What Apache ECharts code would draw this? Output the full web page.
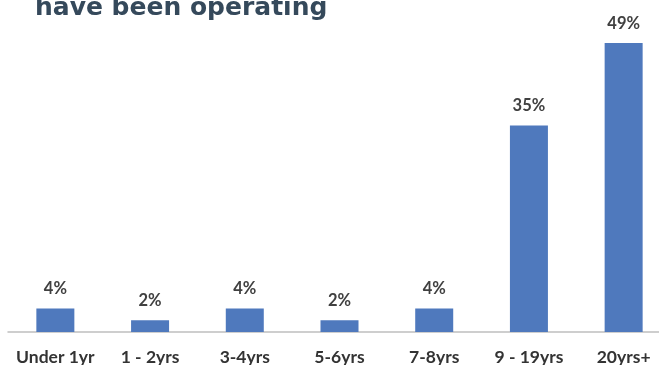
<!DOCTYPE html>
<html>
<head>
<meta charset="utf-8">
<script src="https://cdn.jsdelivr.net/npm/echarts@6/dist/echarts.min.js"></script>
<style>
  html, body { margin: 0; padding: 0; background: #ffffff; }
  #chart { width: 659px; height: 365px; }
</style>
</head>
<body>
<div id="chart"></div>
<script>
// Share of businesses by how long they have been operating
const categories = ['Under 1yr', '1 - 2yrs', '3-4yrs', '5-6yrs', '7-8yrs', '9 - 19yrs', '20yrs+'];
const shares = [4, 2, 4, 2, 4, 35, 49];
const titleText = 'have been operating';

const chart = echarts.init(document.getElementById('chart'));
chart.setOption({
  animation: false,
  title: {
    text: titleText,
    left: 30,
    top: -9,
    textStyle: {
      fontFamily: 'DejaVu Sans',
      fontWeight: 'bold',
      fontSize: 25,
      color: '#35495b'
    }
  },
  grid: { left: 8, width: 663, top: 37, bottom: 33, containLabel: false, outerBoundsMode: 'none' },
  xAxis: {
    type: 'category',
    data: categories,
    axisLine: { lineStyle: { color: '#bfbfbf', width: 1.5 } },
    axisTick: { show: false },
    axisLabel: {
      interval: 0,
      margin: 16.5,
      fontFamily: 'Lato',
      fontWeight: 'bold',
      fontSize: 17.5,
      color: '#333333'
    }
  },
  yAxis: {
    type: 'value',
    min: 0,
    max: 50,
    show: false,
    splitLine: { show: false }
  },
  series: [{
    type: 'bar',
    data: shares,
    barWidth: 38,
    itemStyle: { color: '#4f79bd' },
    label: {
      show: true,
      position: 'top',
      distance: 11,
      formatter: '{c}%',
      fontFamily: 'Lato',
      fontWeight: 'bold',
      fontSize: 16.5,
      color: '#404040'
    }
  }]
});
</script>
</body>
</html>
